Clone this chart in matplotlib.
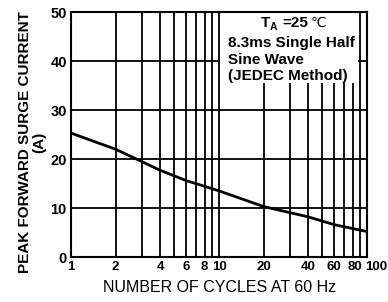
import numpy as np
import matplotlib.pyplot as plt
from matplotlib.patches import Rectangle
import matplotlib.transforms as mtransforms

plt.rcParams['font.family'] = ['Liberation Sans', 'DejaVu Sans']

# curve
cycles = [1, 2, 3, 4, 6, 10, 20, 40, 60, 100]
current = [25.3, 22.0, 19.5, 17.7, 15.6, 13.5, 10.3, 8.2, 6.6, 5.2]

xgrid = [1, 2, 3, 4, 5, 6, 7, 8, 9, 10, 20, 30, 40, 50, 60, 70, 80, 90, 100]
xticks = [1, 2, 4, 6, 8, 10, 20, 40, 60, 80, 100]
yticks = [0, 10, 20, 30, 40, 50]

fig = plt.figure(figsize=(3.88, 3.02), dpi=100)
ax = fig.add_axes([0.183, 0.149, 0.763, 0.811])
ax.set_xscale('log')
ax.set_xlim(1, 100)
ax.set_ylim(0, 50)

for xv in xgrid:
    ax.axvline(xv, color='black', lw=1.3, zorder=1)
for yv in yticks:
    ax.axhline(yv, color='black', lw=1.3, zorder=1)

# white box behind the note
ax.add_patch(Rectangle((0.503, 0.71), 0.466, 0.30, transform=ax.transAxes,
                       facecolor='white', edgecolor='none', zorder=2, clip_on=False))

ax.plot(cycles, current, color='black', lw=2.0, zorder=3)

ax.set_xticks(xticks)
ax.set_xticklabels([str(t) for t in xticks], fontsize=9.5, fontweight='bold')
ax.set_xticks([], minor=True)
ax.set_yticks(yticks)
ax.set_yticklabels([str(t) for t in yticks], fontsize=10.5, fontweight='bold')
ax.tick_params(length=0, pad=3)
for s in ax.spines.values():
    s.set_linewidth(1.5)

# last labels sit a bit to the right, as in the original
labs = ax.get_xticklabels()
for lab, dx in zip(labs[-2:], [2, 9]):
    lab.set_transform(lab.get_transform() +
                      mtransforms.ScaledTranslation(dx / 100, 0, fig.dpi_scale_trans))

ax.set_xlabel('NUMBER OF CYCLES AT 60 Hz', fontsize=11.5, labelpad=5)
ax.set_ylabel('PEAK FORWARD SURGE CURRENT\n(A)', fontsize=11, fontweight='bold',
              linespacing=1.0)
ax.yaxis.set_label_coords(-0.085, 0.47)

# T_A = 25 degC
ax.text(0.64, 0.955, 'T', transform=ax.transAxes,
        fontsize=11, fontweight='bold', va='center', ha='left', zorder=4)
ax.text(0.67, 0.94, 'A', transform=ax.transAxes,
        fontsize=7.5, fontweight='bold', va='center', ha='left', zorder=4)
ax.text(0.715, 0.955, '=25', transform=ax.transAxes,
        fontsize=11, fontweight='bold', va='center', ha='left', zorder=4)
ax.text(0.81, 0.955, '℃', transform=ax.transAxes, family=['DejaVu Sans'],
        fontsize=10, va='center', ha='left', zorder=4)
note = ['8.3ms Single Half', 'Sine Wave', '(JEDEC Method)']
for i, line in enumerate(note):
    ax.text(0.532, 0.873 - i * 0.067, line, transform=ax.transAxes,
            fontsize=11, fontweight='bold', va='center', ha='left', zorder=4)

fig.savefig('out.png', dpi=100)
